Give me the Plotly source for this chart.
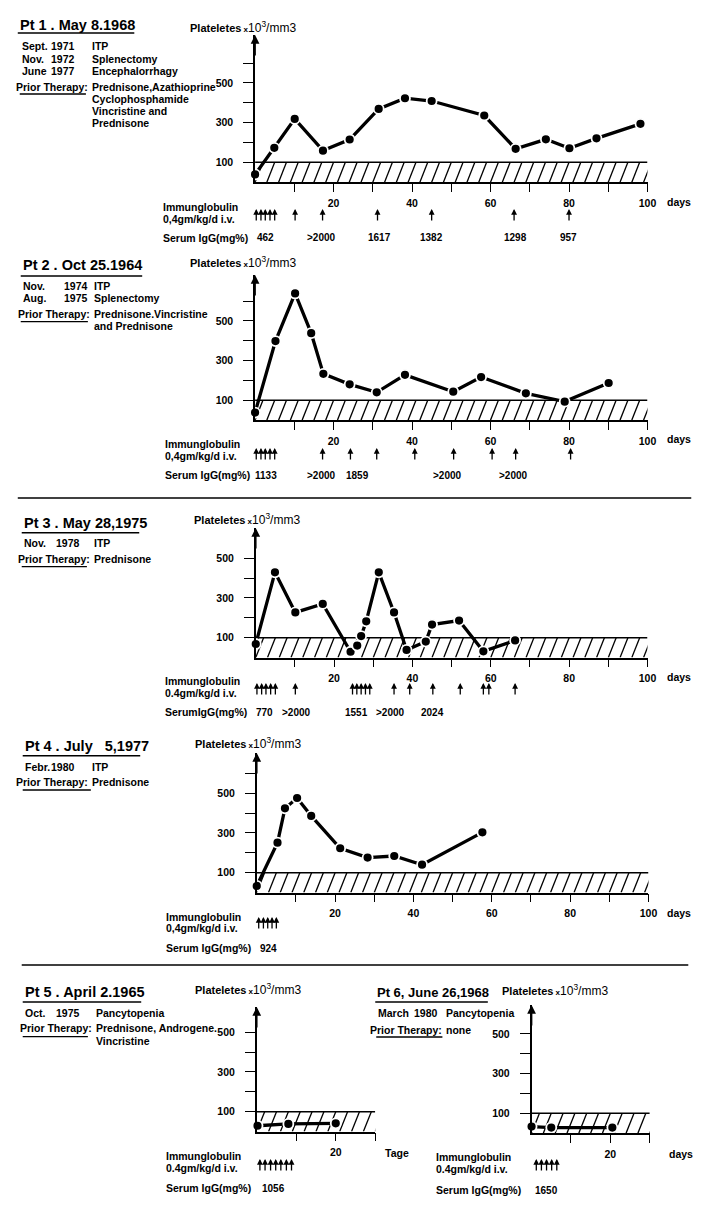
import plotly.graph_objects as go

W, H = 720, 1210
FONT = "Liberation Sans, Arial, Helvetica, sans-serif"

# ------------------------------------------------------------------ data
normal_upper = 100          # upper limit of the hatched band (x10^3/mm3)

# Patient 1
p1_days = [0, 4.9, 10.1, 17.3, 24.1, 31.5, 38.2, 45, 58.4, 66.4, 74.1, 80.1, 87, 98.2]
p1_plt = [39, 173, 319, 159, 215, 369, 423, 409, 336, 168, 216, 171, 221, 294]
p1_doses = [0.3, 1.5, 2.6, 3.8, 5.0, 10.2, 17.2, 31.2, 45, 66, 80]
p1_igg_days = [2.6, 17, 31.7, 45, 66.4, 79.8]
p1_igg = ["462", ">2000", "1617", "1382", "1298", "957"]

# Patient 2
p2_days = [0, 5.2, 10.2, 14.3, 17.4, 24.1, 31, 38.2, 50.5, 57.6, 69, 78.9, 90.1]
p2_plt = [38, 398, 638, 438, 233, 180, 140, 228, 143, 217, 135, 93, 187]
p2_doses = [0.3, 1.5, 2.6, 3.8, 5.0, 17.2, 24.3, 31, 40.7, 50.6, 60.4, 66.4, 80.4]
p2_igg_days = [2.9, 17, 26, 49, 65.8]
p2_igg = ["1133", ">2000", "1859", ">2000", ">2000"]

# Patient 3
p3_days = [0, 4.9, 10.1, 17.1, 24.2, 25.9, 26.9, 28.2, 31.4, 35.3, 38.5, 43.4, 45, 51.9, 58.1, 66.2]
p3_plt = [68, 429, 227, 270, 29, 60, 108, 182, 429, 227, 38, 80, 166, 186, 31, 86]
p3_doses = [0.3, 1.5, 2.6, 3.8, 5.0, 10.1, 24.7, 25.8, 26.9, 28.0, 29.1,
            35.3, 39.3, 45.2, 52.2, 58.1, 59.5, 66.2]
p3_igg_days = [2.2, 10.3, 25.7, 34.5, 45.1]
p3_igg = ["770", ">2000", "1551", ">2000", "2024"]

# Patient 4
p4_days = [0, 5.3, 7.2, 10.3, 13.9, 21.3, 28.3, 35.1, 42.2, 57.6]
p4_plt = [33, 251, 424, 476, 386, 223, 176, 184, 140, 303]
p4_doses = [0.5, 1.7, 2.8, 3.9, 5.0]
p4_igg_days = [3.0]
p4_igg = ["924"]

# Patient 5
p5_days = [0.2, 8, 20]
p5_plt = [29, 38, 41]
p5_doses = [0.8, 2.1, 3.5, 4.8, 6.1, 7.5, 8.8]
p5_igg_days = [4.2]
p5_igg = ["1056"]

# Patient 6
p6_days = [0, 5, 20.5]
p6_plt = [33, 28, 28]
p6_doses = [1.2, 2.5, 3.8, 5.1, 6.4]
p6_igg_days = [3.7]
p6_igg = ["1650"]

# text blocks
titles = ["Pt 1 . May 8.1968", "Pt 2 . Oct 25.1964", "Pt 3 . May 28,1975",
          "Pt 4 . July\u00a0\u00a0\u00a05,1977", "Pt 5 . April 2.1965", "Pt 6, June 26,1968"]
hist_months = [["Sept.", "Nov.", "June"], ["Nov.", "Aug."], ["Nov."], ["Febr."], ["Oct."], ["March"]]
hist_years = [["1971", "1972", "1977"], ["1974", "1975"], ["1978"], ["1980"], ["1975"], ["1980"]]
hist_events = [["ITP", "Splenectomy", "Encephalorrhagy"], ["ITP", "Splenectomy"], ["ITP"],
               ["ITP"], ["Pancytopenia"], ["Pancytopenia"]]
therapies = [["Prednisone,Azathioprine", "Cyclophosphamide", "Vincristine and", "Prednisone"],
             ["Prednisone.Vincristine", "and Prednisone"], ["Prednisone"], ["Prednisone"],
             ["Prednisone, Androgene.", "Vincristine"], ["none"]]
dose_lbl = ["0,4gm/kg/d i.v.", "0,4gm/kg/d i.v.", "0.4gm/kg/d i.v.", "0,4gm/kg/d i.v.",
            "0.4gm/kg/d i.v.", "0.4gm/kg/d i.v."]
igg_lbl = ["Serum IgG(mg%)", "Serum IgG(mg%)", "SerumIgG(mg%)", "Serum IgG(mg%)",
           "Serum IgG(mg%)", "Serum IgG(mg%)"]
day_word = ["days", "days", "days", "days", "Tage", "days"]
x_span = [100, 100, 100, 100, 30, 30]

series = [
    (p1_days, p1_plt, p1_doses, p1_igg_days, p1_igg),
    (p2_days, p2_plt, p2_doses, p2_igg_days, p2_igg),
    (p3_days, p3_plt, p3_doses, p3_igg_days, p3_igg),
    (p4_days, p4_plt, p4_doses, p4_igg_days, p4_igg),
    (p5_days, p5_plt, p5_doses, p5_igg_days, p5_igg),
    (p6_days, p6_plt, p6_doses, p6_igg_days, p6_igg),
]

# ------------------------------------------------------------------ layout geometry (pixels)
GEOM = [
    dict(x0=258.3, x1=655.7, y0=182.2, ytop=35, ytmax=600, tip=209, igg_y=237.5, tsize=14.5,
         title=(18, 25, 136, 33), hx=(20, 50, 91), hy=[46, 59, 71], ty=[87, 99, 111, 123],
         ul=(20, 87, 94), plat=(190, 27), imm=(163, 207, 219, 238), dw=(673, 202)),
    dict(x0=258.3, x1=655.7, y0=420.1, ytop=275, ytmax=600, tip=448, igg_y=475, tsize=14.5,
         title=(21, 265, 144, 276), hx=(21, 63, 93), hy=[286, 298], ty=[314, 326],
         ul=(21, 89, 321.7), plat=(190, 262), imm=(165, 444, 456, 475), dw=(673, 439)),
    dict(x0=259, x1=655.7, y0=657.5, ytop=528, ytmax=500, tip=683, igg_y=712, tsize=14.5,
         title=(22, 523, 141, 532.7), hx=(22, 55, 93), hy=[543], ty=[559],
         ul=(22, 88, 566.7), plat=(194, 519), imm=(165, 681, 693, 712), dw=(673, 677)),
    dict(x0=260, x1=656.7, y0=892.5, ytop=753, ytmax=600, tip=917, igg_y=948, tsize=14.5,
         title=(23, 746, 142, 755.7), hx=(23, 50, 91), hy=[767], ty=[782],
         ul=(23, 92, 790), plat=(195, 743), imm=(166, 917, 928, 948), dw=(673, 913)),
    dict(x0=260, x1=380, y0=1131.5, ytop=1007, ytmax=500, tip=1159, igg_y=1188, tsize=14.5,
         title=(23, 992, 143, 1002), hx=(23, 55, 95), hy=[1013], ty=[1028, 1041],
         ul=(23, 89, 1036.7), plat=(195, 989), imm=(166, 1156, 1168, 1188), dw=(388, 1153)),
    dict(x0=538.3, x1=658, y0=1133.1, ytop=1005, ytmax=500, tip=1159, igg_y=1190, tsize=13,
         title=(380, 992, 494, 1002), hx=(381, 417, 450), hy=[1013], ty=[1030],
         ul=(381, 448, 1037), plat=(506, 990), imm=(439, 1157, 1169, 1190), dw=(675, 1154)),
]
PX_PER_UNIT = 0.1985
HATCH_STEP = 3.0    # days between hatch lines (style)
HATCH_RUN = 2.0     # horizontal run of a hatch line (style)


def fx(px):
    return px / W


def fy(py):
    return 1 - py / H


fig = go.Figure()
annotations = []
shapes = []


def txt(px, py, s, size=10.5, anchor="left", weight="bold"):
    annotations.append(dict(x=fx(px), y=fy(py), xref="paper", yref="paper", text=s,
                            showarrow=False, xanchor=anchor, yanchor="middle",
                            font=dict(family=FONT, size=size, color="black", weight=weight)))


def hline(xa, xb, py, w=1.3):
    shapes.append(dict(type="line", xref="paper", yref="paper", x0=fx(xa), x1=fx(xb),
                       y0=fy(py), y1=fy(py), line=dict(color="black", width=w)))


for i, (g, (days, plt_vals, doses, igg_days, igg)) in enumerate(zip(GEOM, series)):
    n = i + 1
    xa = "x" if n == 1 else f"x{n}"
    ya = "y" if n == 1 else f"y{n}"
    xkey = "xaxis" if n == 1 else f"xaxis{n}"
    ykey = "yaxis" if n == 1 else f"yaxis{n}"
    span = x_span[i]
    ymax = (g["y0"] - g["ytop"]) / PX_PER_UNIT

    # hatched normal band: diagonal hatch lines clipped by the plot area
    hx_, hy_ = [], []
    k = -1
    while k * HATCH_STEP <= span + HATCH_STEP:
        s = k * HATCH_STEP
        hx_ += [s, s + HATCH_RUN, None]
        hy_ += [0, normal_upper, None]
        k += 1
    fig.add_trace(go.Scatter(
        x=hx_, y=hy_, mode="lines", line=dict(color="black", width=1.3),
        xaxis=xa, yaxis=ya, hoverinfo="skip", showlegend=False, connectgaps=False))
    fig.add_trace(go.Scatter(
        x=[0, span], y=[normal_upper, normal_upper], mode="lines",
        line=dict(color="black", width=1.5), xaxis=xa, yaxis=ya,
        hoverinfo="skip", showlegend=False))
    # platelet curve
    fig.add_trace(go.Scatter(
        x=days, y=plt_vals, mode="lines+markers",
        line=dict(color="black", width=3.3),
        marker=dict(size=10, color="black", line=dict(color="white", width=1.8)),
        xaxis=xa, yaxis=ya, cliponaxis=False, showlegend=False))

    if span == 100:
        xtv = [10, 20, 30, 40, 50, 60, 70, 80, 90, 100]
        xtt = ["", "20", "", "40", "", "60", "", "80", "", "100"]
    else:
        xtv = [10, 20, 30]
        xtt = ["", "20", ""]
    ytv = list(range(100, g["ytmax"] + 1, 100))
    ytt = [str(v) if v in (100, 300, 500) else "" for v in ytv]

    fig.update_layout(**{
        xkey: dict(domain=[fx(g["x0"]), fx(g["x1"])], range=[0, span], anchor=ya,
                   showline=True, linecolor="black", linewidth=1.6, showgrid=False,
                   zeroline=False, ticks="outside", ticklen=8, tickwidth=1.3,
                   tickcolor="black", tickvals=xtv, ticktext=xtt, ticklabelstandoff=2,
                   tickfont=dict(family=FONT, size=10.5, color="black", weight="bold"),
                   fixedrange=True),
        ykey: dict(domain=[fy(g["y0"]), fy(g["ytop"])], range=[0, ymax], anchor=xa,
                   showline=True, linecolor="black", linewidth=1.6, showgrid=False,
                   zeroline=False, ticks="outside", ticklen=10, tickwidth=1.3,
                   tickcolor="black", tickvals=ytv, ticktext=ytt, ticklabelstandoff=8,
                   tickfont=dict(family=FONT, size=10.5, color="black", weight="bold"),
                   fixedrange=True),
    })

    # y-axis arrow head
    annotations.append(dict(x=0, y=ymax, xref=xa, yref=ya, ax=0, ay=22, text="",
                            showarrow=True, arrowhead=2, arrowsize=1.1, arrowwidth=1.6,
                            arrowcolor="black", standoff=0))
    # dose arrows
    for d in doses:
        annotations.append(dict(x=d, y=fy(g["tip"]), xref=xa, yref="paper", ax=0, ay=13,
                                text="", showarrow=True, arrowhead=2, arrowsize=0.9,
                                arrowwidth=1.3, arrowcolor="black", standoff=0))
    # IgG values
    for d, v in zip(igg_days, igg):
        annotations.append(dict(x=d, y=fy(g["igg_y"]), xref=xa, yref="paper", text=v,
                                showarrow=False, xanchor="center", yanchor="middle",
                                font=dict(family=FONT, size=10, color="black", weight="bold")))

    # left text block
    tx, ty_, ux, uy = g["title"]
    txt(tx, ty_, titles[i], size=g["tsize"])
    hline(tx, ux, uy, 1.5)
    mx, yx, ex = g["hx"]
    for k2, hy in enumerate(g["hy"]):
        txt(mx, hy, hist_months[i][k2])
        txt(yx, hy, hist_years[i][k2])
        txt(ex, hy, hist_events[i][k2])
    ul0, ul1, uly = g["ul"]
    txt(ex, g["ty"][0], "Prior Therapy:", anchor="right")
    hline(ul0, ul1, uly, 1.3)
    for k2, tyy in enumerate(g["ty"]):
        txt(ex, tyy, therapies[i][k2])

    px_, py_ = g["plat"]
    txt(px_, py_, "Plateletes<span style='font-size:8px'> x</span>"
                  "<span style='font-weight:normal;font-size:12px'>10<sup>3</sup>/mm3</span>", size=11)

    ix, iy1, iy2, iy3 = g["imm"]
    txt(ix, iy1, "Immunglobulin")
    txt(ix, iy2, dose_lbl[i])
    txt(ix, iy3, igg_lbl[i])

    dwx, dwy = g["dw"]
    txt(dwx, dwy, day_word[i])

# separators
hline(18, 700, 498, 1.3)
hline(22, 697, 965, 1.3)

fig.update_layout(width=W, height=H, margin=dict(l=0, r=0, t=0, b=0),
                  paper_bgcolor="white", plot_bgcolor="white", showlegend=False,
                  annotations=annotations, shapes=shapes,
                  font=dict(family=FONT, color="black"))

fig.write_html("out.html", config={"displayModeBar": False},
               post_script="document.body.style.margin='0';document.body.style.padding='0';")
